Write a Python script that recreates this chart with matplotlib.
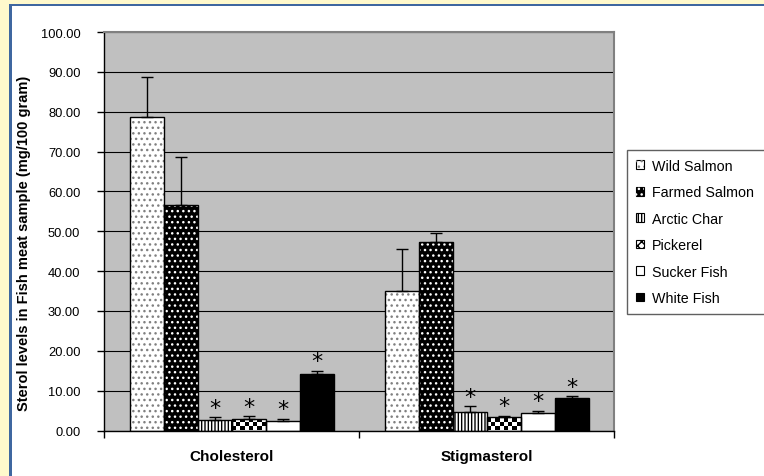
import matplotlib.pyplot as plt
import numpy as np
from matplotlib.patches import Patch, Rectangle

plt.rcParams['font.family'] = ['Liberation Sans', 'DejaVu Sans']
plt.rcParams['hatch.linewidth'] = 1.0

# Dades llegides del gràfic (mg/100 gram)
categories = ['Cholesterol', 'Stigmasterol']
species = ['Wild Salmon', 'Farmed Salmon', 'Arctic Char', 'Pickerel', 'Sucker Fish', 'White Fish']

cholesterol_mean = [78.6, 56.6, 2.6, 3.0, 2.3, 14.1]
cholesterol_err = [10.2, 12.0, 0.7, 0.6, 0.7, 0.9]
cholesterol_sig = [False, False, True, True, True, True]

stigmasterol_mean = [35.0, 47.2, 4.7, 3.5, 4.4, 8.2]
stigmasterol_err = [10.6, 2.3, 1.4, 0.2, 0.6, 0.4]
stigmasterol_sig = [False, False, True, True, True, True]

y_ticks = np.arange(0, 101, 10)

# estil de cada espècie: (color de fons, trama, color de la trama)
styles = [
    ('white', '...', '#808080'),
    ('black', '...', 'white'),
    ('white', '|||||', 'black'),
    ('white', None, None),   # escacs, es dibuixa a part
    ('white', None, None),
    ('black', None, None),
]

means = np.array([cholesterol_mean, stigmasterol_mean])
errs = np.array([cholesterol_err, stigmasterol_err])
sig = np.array([cholesterol_sig, stigmasterol_sig])

fig = plt.figure(figsize=(7.64, 4.77), dpi=100)
fig.patch.set_facecolor('white')
ax = fig.add_axes([104/764, 1 - 431.5/477, 510/764, 398.5/477])
ax.set_facecolor('#C0C0C0')

x = np.arange(len(categories))
n = len(species)
width = 0.8 / n

for i, name in enumerate(species):
    face, hatch, hcol = styles[i]
    pos = x - 0.4 + width * (i + 0.5)
    vals = means[:, i]
    ax.bar(pos, vals, width, color=face, edgecolor='none', zorder=2)
    if hatch:
        ax.bar(pos, vals, width, facecolor='none', edgecolor=hcol, hatch=hatch,
               linewidth=0, zorder=2.1)
    bars = ax.bar(pos, vals, width, fill=False, edgecolor='black', linewidth=1, zorder=2.3)
    if name == 'Pickerel':
        for rect in bars:
            x0 = rect.get_x()
            nrows = int(np.ceil(rect.get_height())) + 1
            board = np.indices((nrows, 8)).sum(axis=0) % 2
            im = ax.imshow(board, cmap='gray', vmin=0, vmax=1, origin='lower',
                           extent=[x0, x0 + rect.get_width(), 0, nrows],
                           interpolation='nearest', aspect='auto', zorder=2.05)
            im.set_clip_path(rect)
    ax.errorbar(pos, vals, yerr=[np.zeros_like(vals), errs[:, i]], fmt='none',
                ecolor='black', elinewidth=1, capsize=4, capthick=1, zorder=2.4)
    for p, v, e, s in zip(pos, vals, errs[:, i], sig[:, i]):
        if s:
            ax.annotate('*', (p, v + e), xytext=(0, -0.5), textcoords='offset points',
                        ha='center', va='bottom', fontsize=16, family='DejaVu Sans', zorder=3)

ax.set_xlim(-0.5, 1.5)
ax.set_ylim(0, 100)
ax.set_yticks(y_ticks)
ax.set_yticklabels([f'{v:.2f}' for v in y_ticks], fontsize=9.3)
ax.tick_params(axis='y', direction='out', length=5, width=1, pad=12)
ax.yaxis.grid(True, color='black', linewidth=0.8)
ax.set_axisbelow(True)

ax.set_xticks([-0.5, 0.5, 1.5])
ax.set_xticklabels([])
ax.tick_params(axis='x', which='major', direction='out', length=5, width=1)
ax.set_xticks(x, minor=True)
ax.set_xticklabels(categories, minor=True, fontsize=11, fontweight='bold')
ax.tick_params(axis='x', which='minor', length=0, pad=13)

for side in ['top', 'right']:
    ax.spines[side].set_color('#808080')
    ax.spines[side].set_linewidth(1.5)
for side in ['left', 'bottom']:
    ax.spines[side].set_color('black')
    ax.spines[side].set_linewidth(1)

fig.text(24.5/764, 1 - 243/477, 'Sterol levels in Fish meat sample (mg/100 gram)',
         rotation=90, ha='center', va='center', fontsize=10.5, fontweight='bold')

# llegenda
handles = []
for face, hatch, hcol in styles:
    base = Patch(facecolor=face, edgecolor='black', linewidth=0.8)
    if hatch:
        handles.append((base, Patch(facecolor='none', edgecolor=hcol, hatch=hatch, linewidth=0)))
    else:
        handles.append(base)
handles[3] = (Patch(facecolor='white', edgecolor='black', linewidth=0.8),
              Patch(facecolor='none', edgecolor='black', hatch='xxxx', linewidth=0))
leg = fig.legend(handles, species, loc='upper left',
                 bbox_to_anchor=(627/764, 1 - 151/477, 0.3, 0), mode='expand',
                 borderaxespad=0, fontsize=10.3, handlelength=0.55, handleheight=0.55,
                 handletextpad=0.55, labelspacing=0.87, borderpad=0.62,
                 fancybox=False, framealpha=1)
leg.get_frame().set_edgecolor('#606060')
leg.get_frame().set_linewidth(1)

# marc groc i blau de la captura
fig.add_artist(Rectangle((0, 0), 9/764, 1, transform=fig.transFigure,
                         facecolor='#FFF9CC', edgecolor='none', zorder=0))
fig.add_artist(Rectangle((0, 1 - 4.5/477), 1, 4.5/477, transform=fig.transFigure,
                         facecolor='#FFF9CC', edgecolor='none', zorder=0))
fig.add_artist(Rectangle((9/764, 0), 2.5/764, 1 - 4.5/477, transform=fig.transFigure,
                         facecolor='#3F67A0', edgecolor='none', zorder=1))
fig.add_artist(Rectangle((9/764, 1 - 7/477), 1, 2.5/477, transform=fig.transFigure,
                         facecolor='#3F67A0', edgecolor='none', zorder=1))

fig.savefig('out.png', dpi=100)
